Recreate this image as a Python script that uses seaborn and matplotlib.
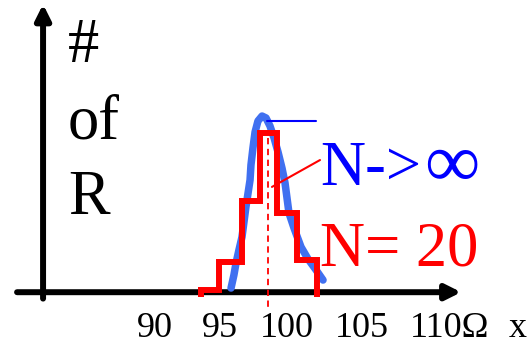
import matplotlib
matplotlib.use("Agg")
import matplotlib.pyplot as plt
import seaborn as sns

# resistance values (ohm) and counts
hist_edges = [93.48, 94.85, 96.59, 97.95, 99.24, 100.76, 102.27]
hist_counts = [0.2, 1.94, 5.75, 10.0, 5.0, 2.06]

curve_x = [95.76, 95.98, 96.14, 96.36, 96.59, 96.74, 96.89, 97.05, 97.20, 97.27,
           97.42, 97.58, 97.80, 98.11, 98.41, 98.71, 99.02, 99.32, 99.62, 99.85,
           100.0, 100.15, 100.53, 101.06, 101.59, 102.20, 102.73]
curve_y = [0.31, 1.13, 1.88, 2.69, 3.5, 4.44, 5.38, 6.25, 7.06, 8.0,
           9.06, 10.06, 10.75, 11.06, 10.94, 10.44, 9.69, 8.81, 7.81, 6.88,
           5.94, 5.0, 4.06, 2.88, 2.13, 1.44, 0.81]

mean_x = 98.56
tick_values = [90, 94.9, 100, 105.7, 112.3]
tick_labels = ["90", "95", "100", "105", "110Ω"]

sns.set_style("white")
plt.rcParams['font.family'] = ['Liberation Serif', 'DejaVu Serif']
plt.rcParams['text.color'] = 'black'

fig = plt.figure(figsize=(5.32, 3.46), dpi=100)
ax = fig.add_axes([0, 0, 1, 1])
ax.set_xlim(78.2576, 118.5606)
ax.set_ylim(-3.3125, 18.3125)
ax.axis('off')

# axes drawn as arrows
arrow = dict(arrowstyle='-|>,head_length=0.9,head_width=0.45', color='black',
             lw=4.3, mutation_scale=10, shrinkA=0, shrinkB=0)
ax.annotate('', xy=(81.52, 18.05), xytext=(81.52, -0.35), arrowprops=arrow, zorder=1)
ax.annotate('', xy=(113.2, 0.05), xytext=(79.55, 0.05), arrowprops=arrow, zorder=1)

# N -> infinity curve
sns.lineplot(x=curve_x, y=curve_y, sort=False, estimator=None, color='#4070F0',
             linewidth=5.4, ax=ax, zorder=2)

# N = 20 histogram
ax.stairs(hist_counts, hist_edges, baseline=-0.25, color='red', linewidth=4.3,
          joinstyle='miter', zorder=3)

# mean line
ax.plot([mean_x, mean_x], [9.7, -0.94], color='red', lw=1.3,
        linestyle=(0, (3.5, 2.5)), zorder=4)

# pointer lines to labels
ax.plot([98.48, 102.2], [10.75, 10.75], color='blue', lw=1.5, zorder=4)
ax.plot([98.86, 102.5], [6.63, 8.31], color='red', lw=1.5, zorder=4)

# tick labels along the bottom (kept inside the canvas)
for v, lab in zip(tick_values, tick_labels):
    ax.text(v, -3.27, lab, ha='center', va='bottom', fontsize=26)
ax.text(117.5, -3.27, "x", ha='center', va='bottom', fontsize=26)

W, H = 532, 346
fig.text(68 / W, 1 - 62 / H, "#", fontsize=45, va='baseline')
fig.text(68 / W, 1 - 138 / H, "of", fontsize=45, va='baseline')
fig.text(68 / W, 1 - 214 / H, "R", fontsize=45, va='baseline')
fig.text(320 / W, 1 - 185 / H, "N->", fontsize=45, va='baseline', color='blue')
fig.text(424 / W, 1 - 187 / H, "∞", fontsize=56, va='baseline', color='blue')
fig.text(320 / W, 1 - 265 / H, "N= 20", fontsize=45, va='baseline', color='red')

fig.savefig("out.png", dpi=100)
